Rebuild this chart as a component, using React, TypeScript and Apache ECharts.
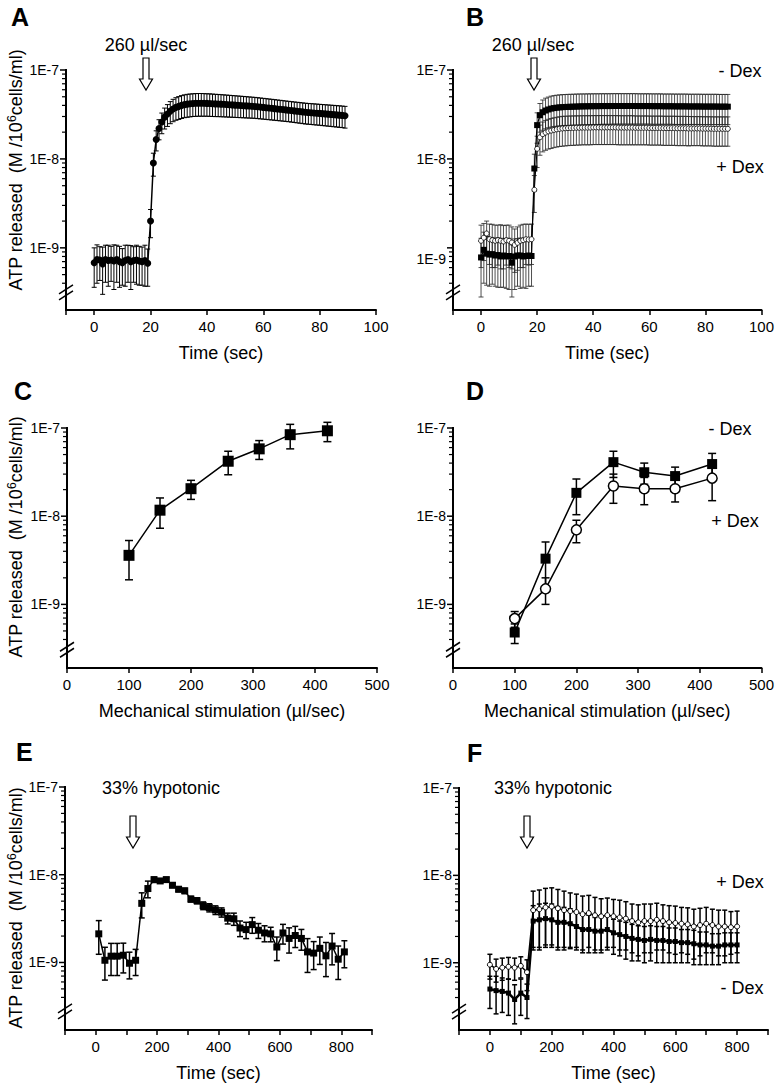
import React, { useEffect, useRef } from 'react';
import * as echarts from 'echarts';

const FONT = '"Liberation Sans", Arial, Helvetica, sans-serif';

// ---------- Panel A (ATP, nM = 1E-9 M) ----------
const timeA = [0,1,2,3,4,5,6,7,8,9,10,11,12,13,14,15,16,17,18,19,
  20,21,22,23,24,25,26,27,28,29,30,31,32,33,34,35,36,37,38,39,
  40,41,42,43,44,45,46,47,48,49,50,51,52,53,54,55,56,57,58,59,
  60,61,62,63,64,65,66,67,68,69,70,71,72,73,74,75,76,77,78,79,
  80,81,82,83,84,85,86,87,88,89];
const atpA = [0.68,0.74,0.73,0.66,0.74,0.72,0.73,0.71,0.74,0.7,0.68,0.72,0.74,0.7,0.72,0.73,0.71,0.7,0.72,0.67,
  2.0,9.0,16.5,22,26,29.5,32,34.5,36.5,38,
  39,40,40.8,41.3,41.7,42,42.2,42.3,42.3,42.2,
  42.1,42,41.8,41.6,41.5,41.3,41.1,40.9,40.7,40.5,
  40.3,40.1,39.9,39.7,39.5,39.3,39.1,38.9,38.6,38.3,
  38,37.7,37.4,37.1,36.8,36.5,36.2,35.9,35.6,35.3,
  35,34.7,34.4,34.1,33.8,33.5,33.3,33.1,32.9,32.7,
  32.5,32.3,32.1,31.9,31.7,31.5,31.3,31.1,30.9,30.6];
const errA = [0.32,0.34,0.3,0.36,0.33,0.35,0.31,0.37,0.33,0.34,0.3,0.35,0.33,0.36,0.31,0.34,0.33,0.32,0.35,0.3,
  0.7,2.6,4.2,5.6,6.8,7.8,8.8,9.6,10.3,10.8,
  11.2,11.5,11.7,11.9,12,12,12.1,12.1,12.1,12,
  11.9,11.9,11.8,11.7,11.6,11.5,11.4,11.3,11.2,11.1,
  11,10.9,10.8,10.7,10.6,10.5,10.4,10.3,10.2,10.1,
  10,9.9,9.8,9.7,9.6,9.5,9.4,9.3,9.2,9.1,
  9.05,9,8.95,8.9,8.85,8.8,8.75,8.7,8.7,8.65,
  8.6,8.6,8.55,8.55,8.5,8.5,8.45,8.45,8.4,8.4];

// ---------- Panel B ----------
const timeB = [0,1,2,3,4,5,6,7,8,9,10,11,12,13,14,15,16,17,18,19,
  20,21,22,23,24,25,26,27,28,29,30,31,32,33,34,35,36,37,38,39,
  40,41,42,43,44,45,46,47,48,49,50,51,52,53,54,55,56,57,58,59,
  60,61,62,63,64,65,66,67,68,69,70,71,72,73,74,75,76,77,78,79,
  80,81,82,83,84,85,86,87,88];
const atpBminus = [0.78,0.95,0.86,0.84,0.85,0.82,0.83,0.8,0.82,0.8,0.81,0.68,0.8,0.82,0.82,0.8,0.81,0.82,0.81,
  7.8,24,31,33.5,35,36,36.8,37.3,37.7,38,
  38.2,38.4,38.5,38.6,38.7,38.8,38.9,39,39,39.1,
  39.1,39.2,39.2,39.2,39.3,39.3,39.3,39.3,39.4,39.4,
  39.4,39.4,39.4,39.4,39.4,39.4,39.4,39.3,39.3,39.3,
  39.3,39.3,39.2,39.2,39.2,39.2,39.1,39.1,39.1,39.1,
  39,39,39,39,39,38.9,38.9,38.9,38.9,38.9,
  38.8,38.8,38.8,38.8,38.8,38.8,38.7,38.7,38.7,38.7];
const errBminus = [0.5,0.55,0.48,0.47,0.46,0.45,0.47,0.44,0.46,0.45,0.47,0.4,0.46,0.45,0.47,0.44,0.46,0.45,0.44,
  3.5,9,11,12.5,13.2,13.6,14,14.2,14.4,14.5,
  14.6,14.6,14.7,14.7,14.7,14.8,14.8,14.8,14.8,14.8,
  14.8,14.8,14.8,14.8,14.8,14.8,14.8,14.8,14.8,14.8,
  14.8,14.8,14.8,14.8,14.8,14.8,14.8,14.7,14.7,14.7,
  14.7,14.7,14.7,14.7,14.7,14.7,14.6,14.6,14.6,14.6,
  14.6,14.6,14.6,14.6,14.6,14.5,14.5,14.5,14.5,14.5,
  14.5,14.5,14.5,14.5,14.5,14.5,14.4,14.4,14.4,14.4];
const atpBplus = [1.2,1.3,1.45,1.25,1.22,1.2,1.22,1.2,1.18,1.22,1.2,1.15,1.08,1.14,1.2,1.22,1.25,1.24,1.25,
  4.5,13,17.5,19,19.8,20.4,20.8,21.2,21.5,21.8,
  22,22.1,22.2,22.3,22.3,22.4,22.4,22.5,22.5,22.5,
  22.5,22.6,22.6,22.6,22.6,22.6,22.6,22.6,22.6,22.6,
  22.5,22.5,22.5,22.5,22.5,22.5,22.4,22.4,22.4,22.4,
  22.4,22.3,22.3,22.3,22.3,22.3,22.2,22.2,22.2,22.2,
  22.2,22.1,22.1,22.1,22.1,22,22,22,22,22,
  21.9,21.9,21.9,21.9,21.8,21.8,21.8,21.8,21.8,21.8];
const errBplus = [0.6,0.58,0.55,0.6,0.62,0.6,0.58,0.62,0.6,0.58,0.6,0.57,0.55,0.58,0.6,0.62,0.6,0.6,0.6,
  2,5,6.5,7,7.3,7.5,7.7,7.8,7.9,8,
  8.1,8.1,8.1,8.1,8.1,8.1,8.1,8.1,8.1,8.1,
  8.1,8.1,8.1,8.1,8.1,8.1,8.1,8.1,8.1,8.1,
  8.1,8.1,8.1,8.1,8.1,8.1,8,8,8,8,
  8,8,8,8,8,8,8,8,8,8,
  8,8,8,8,8,8,7.9,7.9,7.9,7.9,
  7.9,7.9,7.9,7.9,7.9,7.9,7.9,7.9,7.9,7.9];

// ---------- Panel C / D (mechanical stimulation, µl/sec) ----------
const stim = [100,150,200,260,310,360,420];
const atpC = [3.6,11.7,20.5,42,58,84,93];
const errC = [1.7,4.4,5,12.5,14,26,23];
const atpDminus = [0.48,3.3,18.4,41,31.5,28.5,39];
const errDminus = [0.12,1.8,8,13.5,8.5,7.5,12.5];
const atpDplus = [0.69,1.5,7,22,20.5,20.5,27];
const errDplus = [0.14,0.5,2,8,7,6,12];

// ---------- Panel E ----------
const timeE = [10,30,50,70,90,110,130,150,170,190,210,230,250,270,290,310,330,350,370,390,
  410,430,450,470,490,510,530,550,570,590,610,630,650,670,690,710,730,750,770,790,810];
const atpE = [2.12,1.06,1.18,1.18,1.21,0.98,1.06,4.72,6.96,8.79,8.5,8.8,7.59,6.84,6.56,5.28,5.06,
  4.45,4.22,3.97,3.74,3.2,3.15,2.47,2.37,2.7,2.33,2.17,2.12,1.5,2.17,1.88,2.03,1.88,1.32,1.28,1.45,
  1.19,1.54,1.09,1.32];
const errE = [0.88,0.43,0.47,0.47,0.45,0.33,0.35,1.5,1.5,0.6,0.5,0.5,0.45,0.45,0.45,0.4,0.4,
  0.45,0.45,0.45,0.45,0.45,0.5,0.5,0.5,0.55,0.45,0.45,0.4,0.45,0.55,0.6,0.55,0.5,0.55,0.45,0.5,
  0.5,0.6,0.45,0.45];

// ---------- Panel F ----------
const timeF = [0,20,40,60,80,100,120,140,160,180,200,220,240,260,280,300,320,340,360,380,
  400,420,440,460,480,500,520,540,560,580,600,620,640,660,680,700,720,740,760,780,800];
const atpFplus = [0.95,0.85,0.88,0.9,0.88,0.92,0.78,
  4.0,4.1,4.3,4.4,4.2,4.0,3.9,3.8,3.6,3.7,3.5,3.4,3.5,3.4,3.3,3.2,3.0,2.9,3.0,3.0,
  3.1,3.0,2.9,2.85,2.8,2.75,2.6,2.7,2.8,2.7,2.6,2.6,2.55,2.6];
const errFplus = [0.3,0.25,0.25,0.25,0.25,0.25,0.3,
  2.6,2.7,2.8,2.8,2.7,2.6,2.4,2.3,2.2,2.2,2.1,2.0,2.0,1.9,1.9,1.8,1.7,1.7,1.7,1.7,
  1.7,1.6,1.6,1.6,1.5,1.5,1.5,1.5,1.5,1.4,1.4,1.4,1.3,1.3];
const atpFminus = [0.5,0.48,0.47,0.45,0.38,0.45,0.4,
  3.0,3.1,3.2,3.1,2.9,2.9,2.8,2.6,2.4,2.4,2.3,2.3,2.4,2.2,2.1,2.0,1.9,1.85,1.8,1.85,
  1.8,1.8,1.75,1.75,1.7,1.7,1.65,1.6,1.6,1.55,1.55,1.6,1.6,1.6];
const errFminus = [0.2,0.22,0.2,0.2,0.18,0.2,0.17,
  1.5,1.6,1.6,1.6,1.5,1.4,1.35,1.2,1.1,1.1,1.0,1.0,1.0,0.95,0.9,0.9,0.85,0.8,0.8,0.8,
  0.8,0.8,0.75,0.75,0.7,0.7,0.7,0.65,0.65,0.6,0.6,0.6,0.6,0.6];

// ---------- axis ticks / labels ----------
const yMajor = [1, 10, 100];
const yMinor = [0.4,0.5,0.6,0.7,0.8,0.9,2,3,4,5,6,7,8,9,20,30,40,50,60,70,80,90];
const xTicksTime = [-10,0,20,40,60,80,100];
const xLabelsTime = [0,20,40,60,80,100];
const xTicksStim = [0,100,200,300,400,500];
const xTicksHypo = [-100,0,100,200,300,400,500,600,700,800,900];
const xLabelsHypo = [0,200,400,600,800];

type Panel = {
  left: number; top: number; width: number; height: number;
  xMin: number; xMax: number; xTicks: number[]; xLabels: number[]; xName: string;
  yMin: number; brk: number; lowLabel?: boolean;
};

const panels: Panel[] = [
  { left: 66, top: 70, width: 310, height: 240, xMin: -10, xMax: 100, xTicks: xTicksTime, xLabels: xLabelsTime, xName: 'Time (sec)', yMin: 0.2, brk: 0.32 },
  { left: 453, top: 70, width: 310, height: 240, xMin: -10, xMax: 100, xTicks: xTicksTime, xLabels: xLabelsTime, xName: 'Time (sec)', yMin: 0.2, brk: 0.32, lowLabel: true },
  { left: 67, top: 428, width: 310, height: 240, xMin: 0, xMax: 500, xTicks: xTicksStim, xLabels: xTicksStim, xName: 'Mechanical stimulation (µl/sec)', yMin: 0.19, brk: 0.31 },
  { left: 453, top: 428, width: 309, height: 240, xMin: 0, xMax: 500, xTicks: xTicksStim, xLabels: xTicksStim, xName: 'Mechanical stimulation (µl/sec)', yMin: 0.19, brk: 0.31 },
  { left: 65, top: 787, width: 307, height: 246, xMin: -100, xMax: 900, xTicks: xTicksHypo, xLabels: xLabelsHypo, xName: 'Time (sec)', yMin: 0.17, brk: 0.28 },
  { left: 459, top: 788, width: 309, height: 244, xMin: -100, xMax: 900, xTicks: xTicksHypo, xLabels: xLabelsHypo, xName: 'Time (sec)', yMin: 0.17, brk: 0.28 },
];

const expLabel = (v: number) => '1E' + (Math.round(Math.log10(v)) - 9);

function errRender(cap: number, lw: number, color: string) {
  return (params: any, api: any) => {
    const x = api.value(0), y = api.value(1), e = api.value(2);
    const hi = api.coord([x, y + e]);
    const lo = api.coord([x, y - e]);
    const st = { stroke: color, lineWidth: lw };
    return {
      type: 'group',
      children: [
        { type: 'line', shape: { x1: hi[0], y1: hi[1], x2: lo[0], y2: lo[1] }, style: st },
        { type: 'line', shape: { x1: hi[0] - cap / 2, y1: hi[1], x2: hi[0] + cap / 2, y2: hi[1] }, style: st },
        { type: 'line', shape: { x1: lo[0] - cap / 2, y1: lo[1], x2: lo[0] + cap / 2, y2: lo[1] }, style: st },
      ],
    };
  };
}

// y axis drawing (line split at the break, log ticks, "//" mark) from pixel points given by the axis scale
function axisElements(px: (y: number) => number[], p: Panel, z: number) {
  const b = px(p.yMin), t = px(100), k = px(p.brk);
  const x = b[0], y = k[1];
  const blk = (w: number) => ({ stroke: '#000', lineWidth: w });
  const els: any[] = [
    { type: 'rect', z, silent: true, shape: { x: x - 1, y: t[1] - 1, width: 2, height: (y - 2.5) - (t[1] - 1) }, style: { fill: '#000' } },
    { type: 'rect', z, silent: true, shape: { x: x - 1, y: y + 3.5, width: 2, height: b[1] + 1 - (y + 3.5) }, style: { fill: '#000' } },
    { type: 'line', z, silent: true, shape: { x1: x - 7, y1: y + 2, x2: x + 7, y2: y - 7 }, style: blk(1.5) },
    { type: 'line', z, silent: true, shape: { x1: x - 7, y1: y + 8, x2: x + 7, y2: y - 1 }, style: blk(1.5) },
  ];
  yMinor.forEach(v => {
    const q = px(v);
    els.push({ type: 'line', z, silent: true, shape: { x1: x - 4, y1: q[1], x2: x, y2: q[1] }, style: blk(1.2) });
  });
  yMajor.forEach(v => {
    const q = px(v);
    els.push({ type: 'line', z, silent: true, shape: { x1: x - 6, y1: q[1], x2: x, y2: q[1] }, style: blk(1.5) });
  });
  return els;
}

function errSeries(i: number, xs: number[], ys: number[], es: number[], cap: number, lw: number, color = '#000') {
  return {
    type: 'custom', xAxisIndex: i, yAxisIndex: i, clip: false, z: 1,
    encode: { x: 0, y: 1 },
    data: xs.map((x, k) => [x, ys[k], es[k]]),
    renderItem: errRender(cap, lw, color),
  };
}

function lineSeries(i: number, xs: number[], ys: number[], symbol: string, size: number, filled: boolean, lw: number, bw = 1) {
  return {
    type: 'line', xAxisIndex: i, yAxisIndex: i, z: 2,
    data: xs.map((x, k) => [x, ys[k]]),
    symbol, symbolSize: size, showSymbol: true,
    itemStyle: { color: filled ? '#000' : '#fff', borderColor: '#000', borderWidth: bw },
    lineStyle: { color: '#000', width: lw },
  };
}

function arrow(cx: number, top: number) {
  return {
    type: 'polygon', silent: true,
    shape: { points: [[cx - 3, top], [cx + 3, top], [cx + 3, top + 21], [cx + 6.5, top + 21], [cx, top + 32], [cx - 6.5, top + 21], [cx - 3, top + 21]] },
    style: { fill: '#fff', stroke: '#000', lineWidth: 1.2 },
  };
}

function txt(x: number, y: number, text: string, size = 18, weight: any = 'normal', align = 'center') {
  return {
    type: 'text', x, y, silent: true,
    style: { text, fontSize: size, fontWeight: weight, fontFamily: FONT, fill: '#000', align, verticalAlign: 'middle', textAlign: align, textVerticalAlign: 'middle' },
  };
}

function yTitle(x: number, y: number) {
  return {
    type: 'text', x, y, rotation: Math.PI / 2, silent: true,
    style: {
      text: '{a|ATP released  (M /10}{b|6}{a|cells/ml)}',
      fill: '#000', align: 'center', verticalAlign: 'middle', textAlign: 'center', textVerticalAlign: 'middle',
      rich: {
        a: { fontSize: 18, fontFamily: FONT, fill: '#000', lineHeight: 20 },
        b: { fontSize: 12, fontFamily: FONT, fill: '#000', verticalAlign: 'top', lineHeight: 20 },
      },
    },
  };
}

const staticGraphic = [
  txt(11, 17, 'A', 25, 'bold', 'left'),
  txt(466, 17, 'B', 25, 'bold', 'left'),
  txt(14, 391, 'C', 25, 'bold', 'left'),
  txt(466, 391, 'D', 25, 'bold', 'left'),
  txt(16, 752, 'E', 25, 'bold', 'left'),
  txt(467, 753, 'F', 25, 'bold', 'left'),
  txt(146, 45, '260 µl/sec'),
  txt(533, 45, '260 µl/sec'),
  txt(161, 788, '33% hypotonic'),
  txt(553, 788, '33% hypotonic'),
  txt(740, 71, '- Dex'),
  txt(740, 167, '+ Dex'),
  txt(730, 429, '- Dex'),
  txt(735, 521, '+ Dex'),
  txt(740, 882, '+ Dex'),
  txt(742, 988, '- Dex'),
  arrow(146, 58),
  arrow(534, 58),
  arrow(133, 816),
  arrow(527, 816),
  yTitle(16, 170),
  yTitle(16, 537),
  yTitle(16, 908),
];

function buildOption() {
  const grid = panels.map(p => ({ left: p.left, top: p.top, width: p.width, height: p.height }));
  const xAxis = panels.map((p, i) => ({
    type: 'value', gridIndex: i, min: p.xMin, max: p.xMax,
    name: p.xName, nameLocation: 'middle', nameGap: 34,
    nameTextStyle: { fontSize: 18, fontFamily: FONT, color: '#000' },
    axisLine: { show: true, onZero: false, lineStyle: { color: '#000', width: 2 } },
    axisTick: { show: true, customValues: p.xTicks, length: 5, lineStyle: { color: '#000', width: 1.5 } },
    axisLabel: { show: true, customValues: p.xLabels, fontSize: 15, fontFamily: FONT, color: '#000', margin: 9 },
    splitLine: { show: false },
  }));
  const yAxis = panels.map((p, i) => ({
    type: 'log', logBase: 10, gridIndex: i, min: p.yMin, max: 100,
    axisLine: { show: true, onZero: false, lineStyle: { color: '#000', width: 2 } },
    axisTick: { show: false },
    axisLabel: {
      show: true, customValues: yMajor, margin: 7,
      formatter: (v: number) => (p.lowLabel && Math.abs(v - 1) < 1e-6 ? '{lo|' + expLabel(v) + '}' : '{n|' + expLabel(v) + '}'),
      rich: {
        n: { fontSize: 14, fontFamily: FONT, color: '#000' },
        lo: { fontSize: 14, fontFamily: FONT, color: '#000', padding: [22, 0, 0, 0] },
      },
    },
    splitLine: { show: false },
  }));

  const series: any[] = [];
  // A
  series.push(errSeries(0, timeA, atpA, errA, 5, 1));
  series.push(lineSeries(0, timeA, atpA, 'circle', 7, true, 1.5, 0));
  // B
  series.push(errSeries(1, timeB, atpBminus, errBminus, 5, 0.8, '#222'));
  series.push(errSeries(1, timeB, atpBplus, errBplus, 5, 0.8, '#222'));
  series.push(lineSeries(1, timeB, atpBplus, 'circle', 5, false, 1, 0.8));
  series.push(lineSeries(1, timeB, atpBminus, 'rect', 6, true, 1.2, 0));
  // C
  series.push(errSeries(2, stim, atpC, errC, 8, 1.5));
  series.push(lineSeries(2, stim, atpC, 'rect', 11, true, 1.5, 0));
  // D
  series.push(errSeries(3, stim, atpDminus, errDminus, 8, 1.5));
  series.push(errSeries(3, stim, atpDplus, errDplus, 8, 1.5));
  series.push(lineSeries(3, stim, atpDminus, 'rect', 10, true, 1.5, 0));
  series.push(lineSeries(3, stim, atpDplus, 'circle', 10, false, 1.5, 1.5));
  // E
  series.push(errSeries(4, timeE, atpE, errE, 6, 1.5));
  series.push(lineSeries(4, timeE, atpE, 'rect', 7, true, 1.5, 0));
  // F
  series.push(errSeries(5, timeF, atpFplus, errFplus, 5, 1.5));
  series.push(errSeries(5, timeF, atpFminus, errFminus, 5, 1.5));
  series.push(lineSeries(5, timeF, atpFplus, 'circle', 5, false, 1.5, 1));
  series.push(lineSeries(5, timeF, atpFminus, 'rect', 5, true, 2.5, 0));

  return {
    animation: false,
    textStyle: { fontFamily: FONT },
    grid, xAxis, yAxis, series, graphic: staticGraphic,
  };
}

export default function App() {
  const ref = useRef<HTMLDivElement>(null);
  useEffect(() => {
    if (!ref.current) return;
    const chart = echarts.init(ref.current, undefined, { renderer: 'svg' });
    chart.setOption(buildOption() as any);
    try {
      const extra: any[] = [];
      panels.forEach((p, i) => {
        const px = (y: number) => chart.convertToPixel({ xAxisIndex: i, yAxisIndex: i } as any, [p.xMin, y]) as unknown as number[];
        const probe = px(p.yMin);
        if (!probe || !isFinite(probe[0]) || !isFinite(probe[1])) return;
        extra.push(...axisElements(px, p, 100));
      });
      chart.setOption({ graphic: [...staticGraphic, ...extra] } as any);
    } catch (e) {
      // keep the chart as drawn
    }
    return () => chart.dispose();
  }, []);
  return <div ref={ref} style={{ position: 'absolute', left: 0, top: 0, width: 777, height: 1083, background: '#fff' }} />;
}
